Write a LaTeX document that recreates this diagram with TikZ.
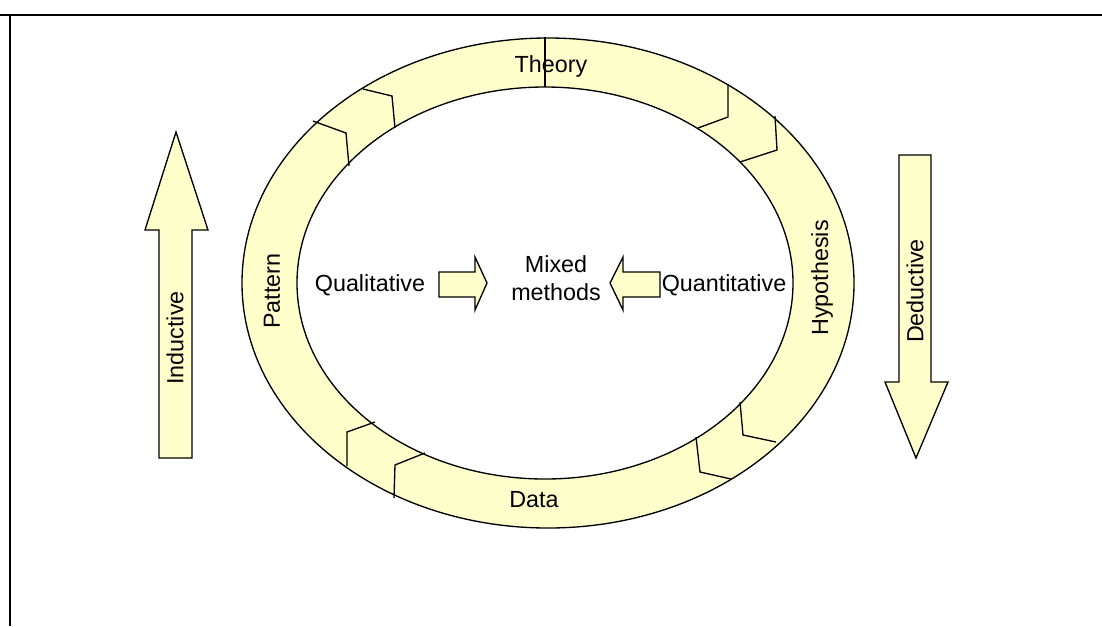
\documentclass[tikz,border=0pt]{standalone}
\usepackage{fontspec}
\setmainfont{Liberation Sans}
\definecolor{groc}{HTML}{FFFFCC}

\begin{document}
\begin{tikzpicture}[x=0.75pt,y=-0.75pt,
    vora/.style={draw=black, line width=1pt, line join=miter},
    bloc/.style={vora, fill=groc},
    text17/.style={font=\fontsize{17.5}{21.5}\selectfont, inner sep=0pt}]
  \useasboundingbox (0,0) rectangle (1102,626);
  % marc
  \draw[line width=1pt] (10,15) -- (1102,15);
  \draw[line width=2pt] (0,15) -- (113,15);
  \draw[line width=2pt] (981,15) -- (1102,15);
  \draw[line width=1.5pt] (10,15) -- (10,626);
  % anell
  \fill[groc, even odd rule] (548,283) ellipse [x radius=306, y radius=245]
    (545,283) ellipse [x radius=248, y radius=196];
  \draw[vora] (548,283) ellipse [x radius=306, y radius=245];
  \draw[vora] (545,283) ellipse [x radius=248, y radius=196];
  \draw[line width=2pt] (545,37) -- (545,87);
  % osques
  \draw[vora] (313,121) -- (346,133) -- (349,166);
  \draw[vora] (363,89) -- (392,96) -- (395,128);
  \draw[vora] (728,84) -- (728,117) -- (698,128);
  \draw[vora] (775,116) -- (777,150) -- (740,162);
  \draw[vora] (740,402) -- (743,435) -- (776,442);
  \draw[vora] (696,437) -- (700,472) -- (731,479);
  \draw[vora] (375,422) -- (347,432) -- (347,466);
  \draw[vora] (425,453) -- (395,465) -- (394,498);
  % textos de l'anell
  \node[text17] (theory) at (551,66) {Theory};
  \node[text17, rotate=90] (hypothesis) at (822,278) {Hypothesis};
  \node[text17] (data) at (534,500) {Data};
  \node[text17, rotate=90] (pattern) at (272,291) {Pattern};
  % centre
  \node[text17] (qual) at (370,285) {Qualitative};
  \node[text17, align=center] (mixed) at (556,278) {Mixed\\methods};
  \node[text17] (quant) at (724,285) {Quantitative};
  \draw[bloc] (439,272) -- (475,272) -- (475,257) -- (487,283) -- (475,310)
    -- (475,297) -- (439,297) -- cycle;
  \draw[bloc] (660,272) -- (623,272) -- (623,257) -- (610,283) -- (623,310)
    -- (623,297) -- (660,297) -- cycle;
  % fletxes laterals
  \draw[bloc] (159,458) -- (159,230) -- (145,230) -- (176,132) -- (208,230)
    -- (192,230) -- (192,458) -- cycle;
  \node[text17, rotate=90] (inductive) at (175,338) {Inductive};
  \draw[bloc] (899,155) -- (931,155) -- (931,382) -- (948,382) -- (916,458)
    -- (885,382) -- (899,382) -- cycle;
  \node[text17, rotate=90] (deductive) at (915,291) {Deductive};
\end{tikzpicture}
\end{document}
